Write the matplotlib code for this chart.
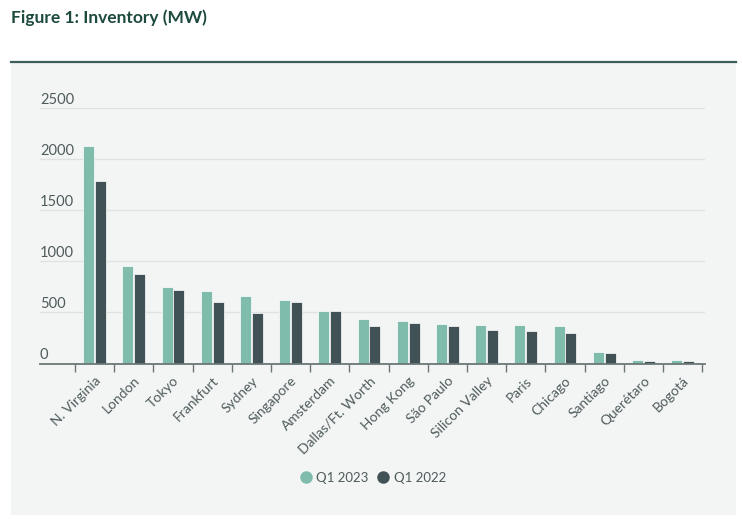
import matplotlib.pyplot as plt
import matplotlib.patches as mpatches
from matplotlib.lines import Line2D
import numpy as np

plt.rcParams['font.family'] = ['Lato', 'DejaVu Sans']

# data
markets = ['N. Virginia', 'London', 'Tokyo', 'Frankfurt', 'Sydney', 'Singapore',
           'Amsterdam', 'Dallas/Ft. Worth', 'Hong Kong', 'São Paulo', 'Silicon Valley',
           'Paris', 'Chicago', 'Santiago', 'Querétaro', 'Bogotá']
q1_2023 = [2130, 957, 752, 706, 659, 622, 512, 434, 417, 388, 378, 375, 365, 111, 39, 33]
q1_2022 = [1785, 873, 716, 599, 497, 603, 512, 372, 401, 368, 326, 323, 303, 101, 29, 29]
yticks = [0, 500, 1000, 1500, 2000, 2500]

green = '#7fbcab'
dark = '#415256'
text_col = '#4f5b5b'
bg = '#f3f4f4'

fig = plt.figure(figsize=(7.43, 5.23), dpi=100)
fig.patch.set_facecolor('white')

# grey panel with dark top rule
fig.add_artist(mpatches.Rectangle((11/743, 8/523), 725/743, 452/523,
                                  transform=fig.transFigure, facecolor=bg,
                                  edgecolor='none', zorder=0))
fig.add_artist(Line2D([11/743, 736/743], [461/523, 461/523], transform=fig.transFigure,
                      color='#3d5c5c', lw=1.6))
fig.text(11/743, 1 - 18/523, 'Figure 1: Inventory (MW)', fontsize=12.5, fontweight='bold',
         color='#1d4a3f', va='center', ha='left')

ax = fig.add_axes([40/743, 159.5/523, 665/743, 255.2/523])
ax.set_facecolor(bg)
ax.patch.set_alpha(0)

x = np.arange(len(markets))
w = 0.28
ax.bar(x - 0.15, q1_2023, width=w, color=green, edgecolor='white', linewidth=0.5, zorder=3)
ax.bar(x + 0.15, q1_2022, width=w, color=dark, edgecolor='white', linewidth=0.5, zorder=3)

ax.set_xlim(-1.39, 15.57)
ax.set_ylim(0, 2500)
for s in ['top', 'right', 'left']:
    ax.spines[s].set_visible(False)
ax.spines['bottom'].set_color('#6b7777')
ax.spines['bottom'].set_linewidth(1.3)
ax.spines['bottom'].set_zorder(4)

ax.set_yticks(yticks)
ax.set_yticklabels([])
ax.tick_params(axis='y', length=0)
ax.grid(axis='y', color='#dfe2e2', lw=1, zorder=0)
for v in yticks:
    ax.text(0, v + 45, str(v), transform=ax.get_yaxis_transform(), fontsize=10.5,
            color=text_col, ha='left', va='baseline')

ax.set_xticks(x)
ax.set_xticklabels(markets, rotation=45, ha='right', rotation_mode='anchor',
                   fontsize=10, color=text_col)
ax.tick_params(axis='x', which='major', length=0, pad=8)
ax.set_xticks(np.arange(-0.5, len(markets)), minor=True)
ax.tick_params(axis='x', which='minor', length=6, color='#6b7777', width=1)

handles = [Line2D([], [], marker='o', ls='', color=green, markersize=8),
           Line2D([], [], marker='o', ls='', color=dark, markersize=8)]
fig.legend(handles, ['Q1 2023', 'Q1 2022'], loc='center', bbox_to_anchor=(372/743, 1 - 478/523),
           ncol=2, frameon=False, fontsize=9.5, handletextpad=0.2, columnspacing=0.5,
           handlelength=1.2, labelcolor=text_col)

fig.savefig('out.png', dpi=100)
